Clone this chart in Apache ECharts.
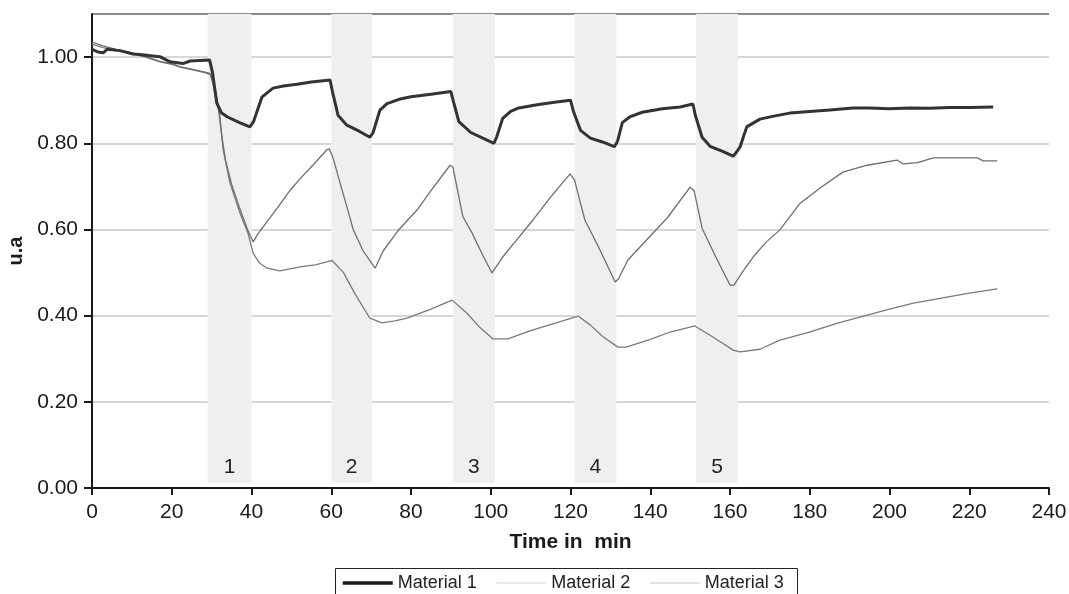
<!DOCTYPE html>
<html>
<head>
<meta charset="utf-8">
<script src="https://cdn.jsdelivr.net/npm/echarts@6/dist/echarts.min.js"></script>
<style>
html,body{margin:0;padding:0;background:#fff;}
#chart{width:1069px;height:594px;}
</style>
</head>
<body>
<div id="chart"></div>
<script>
// ---- data ----
var seriesNames = ['Material 1', 'Material 2', 'Material 3'];

var t1 = [0,1.5,2.8,3.8,7,10.3,14,17,19.6,22.8,24.6,27,29.5,30.2,31.3,32.5,34,37,39.6,40.5,42.6,45.4,48,51.4,55,59.7,60.3,61.7,63.9,67,69.7,70.5,72.2,74,77,80,85,90,90.7,92,95,98,100.8,101.5,103,105,107,112,116,120,120.7,122.5,125,128,131,131.8,133,135,138,143,147.5,150.7,151.3,153,155,158,160.8,161.5,162.5,164.2,167.5,171,175,180,185,190.9,195,200,205,210,215,220,226];
var v1 = [1.018,1.012,1.010,1.018,1.015,1.007,1.004,1.001,0.989,0.985,0.991,0.992,0.993,0.965,0.893,0.870,0.861,0.848,0.838,0.850,0.907,0.928,0.933,0.937,0.942,0.947,0.920,0.865,0.842,0.828,0.814,0.825,0.877,0.892,0.902,0.908,0.914,0.920,0.895,0.850,0.825,0.812,0.800,0.815,0.858,0.874,0.882,0.890,0.895,0.900,0.875,0.830,0.812,0.803,0.792,0.805,0.848,0.862,0.872,0.880,0.884,0.891,0.865,0.814,0.793,0.782,0.770,0.778,0.791,0.838,0.856,0.863,0.870,0.874,0.877,0.882,0.882,0.880,0.882,0.881,0.883,0.883,0.884];

var t2 = [0,2.8,6,10.3,14,17,20,22,25,27.8,29.6,30.5,31.5,32.5,33.5,35,37,39,40.4,41.5,43.9,46.5,49.7,52.2,55.4,58.9,59.5,60.5,62.2,64,65.5,68,71,73,77,81.5,85,89.8,90.5,93,95.3,98,100.3,103,106,110.6,115,119.9,121,123.6,127,131.2,132,134.4,139,144.2,150,151,153,156.5,160,161,163,165.8,169,172.5,177.6,182.6,188.3,194.4,201.9,203.4,207,211,216,222,223.5,227];
var v2 = [1.035,1.026,1.018,1.009,1.000,0.990,0.985,0.978,0.972,0.966,0.962,0.945,0.895,0.820,0.760,0.705,0.650,0.600,0.571,0.588,0.618,0.650,0.691,0.718,0.749,0.785,0.787,0.765,0.708,0.650,0.600,0.550,0.510,0.550,0.600,0.645,0.690,0.749,0.745,0.630,0.592,0.540,0.499,0.536,0.570,0.622,0.675,0.729,0.715,0.622,0.560,0.478,0.485,0.529,0.575,0.626,0.698,0.690,0.603,0.535,0.471,0.471,0.500,0.536,0.570,0.599,0.661,0.696,0.733,0.749,0.761,0.752,0.755,0.766,0.766,0.766,0.759,0.759];

var t3 = [0,2.8,6,10.3,14,17,20,22,25,27.8,29.6,30.3,31.3,32.1,32.9,34.6,37.1,39.1,40.4,42,43.9,47.1,52.2,56,60.2,63,66,69.7,72.7,76,79,85,90.3,94,97,100.6,104.3,110,116,121.9,125,128,131.9,134,140,145,151.2,155.8,160.8,162.5,167.5,172.5,179.3,186.8,194.4,200,206,214.4,220,227];
var v3 = [1.030,1.022,1.016,1.008,0.998,0.989,0.983,0.977,0.971,0.965,0.960,0.940,0.900,0.861,0.784,0.708,0.638,0.592,0.545,0.522,0.510,0.504,0.513,0.518,0.528,0.501,0.450,0.394,0.383,0.388,0.394,0.415,0.436,0.406,0.375,0.346,0.346,0.365,0.382,0.399,0.378,0.352,0.327,0.327,0.345,0.362,0.376,0.350,0.320,0.316,0.322,0.343,0.360,0.382,0.401,0.415,0.429,0.443,0.452,0.462];

var bandStarts = [29, 60, 90.5, 121, 151.5];
var bandEnds   = [40, 70.2, 101, 131.5, 162];
var bandLabels = ['1', '2', '3', '4', '5'];

var xTicks = {min: 0, max: 240, interval: 20};
var yTicks = {min: 0, max: 1.1, interval: 0.2};

// ---- build ----
function pairs(t, v){ return t.map(function(x,i){ return [x, v[i]]; }); }
var bands = bandStarts.map(function(s,i){
  return [{name: bandLabels[i], xAxis: s, yAxis: 0.012}, {xAxis: bandEnds[i], yAxis: yTicks.max}];
});

var FONT = 'Liberation Sans, Arial, sans-serif';
var chart = echarts.init(document.getElementById('chart'), null, {renderer:'canvas'});
chart.setOption({
  animation: false,
  backgroundColor: '#fff',
  textStyle: {fontFamily: FONT},
  grid: {left: 92, right: 20, top: 14, bottom: 106, containLabel: false, outerBoundsMode: 'none'},
  graphic: [{
    type: 'rect', left: 333, top: 566, z: 100, silent: true,
    shape: {width: 462, height: 40},
    style: {fill: 'none', stroke: '#222', lineWidth: 1}
  }],
  legend: {
    left: 341, top: 574, padding: 0,
    itemWidth: 50, itemHeight: 14, itemGap: 19,
    textStyle: {fontFamily: FONT, fontSize: 18, color: '#222'},
    data: [
      {name: seriesNames[0], lineStyle: {color: '#1a1a1a', width: 3.5}, itemStyle: {color: 'rgba(0,0,0,0)', borderWidth: 0}},
      {name: seriesNames[1], lineStyle: {color: '#d0d0d0', width: 1}, itemStyle: {color: 'rgba(0,0,0,0)', borderWidth: 0}},
      {name: seriesNames[2], lineStyle: {color: '#c4c4c4', width: 1}, itemStyle: {color: 'rgba(0,0,0,0)', borderWidth: 0}}
    ]
  },
  xAxis: {
    type: 'value', min: xTicks.min, max: xTicks.max, interval: xTicks.interval,
    name: 'Time in  min', nameLocation: 'middle', nameGap: 44,
    nameTextStyle: {fontFamily: FONT, fontSize: 21, fontWeight: 'bold', color: '#1a1a1a'},
    axisLine: {lineStyle: {color: '#1a1a1a', width: 2}},
    axisTick: {show: true, length: 7, lineStyle: {color: '#1a1a1a', width: 2}},
    axisLabel: {fontFamily: FONT, fontSize: 21, color: '#1a1a1a', margin: 14},
    splitLine: {show: false}
  },
  yAxis: {
    type: 'value', min: yTicks.min, max: yTicks.max, interval: yTicks.interval,
    name: 'u.a', nameLocation: 'middle', nameGap: 63,
    nameTextStyle: {fontFamily: FONT, fontSize: 20, fontWeight: 'bold', color: '#1a1a1a'},
    axisLine: {show: true, lineStyle: {color: '#1a1a1a', width: 2}},
    axisTick: {show: true, length: 8, lineStyle: {color: '#1a1a1a', width: 2}},
    axisLabel: {fontFamily: FONT, fontSize: 21, color: '#1a1a1a', margin: 14, showMaxLabel: false,
      formatter: function(v){ return v.toFixed(2); }},
    splitLine: {show: true, lineStyle: {color: ['#d6d6d6','#d6d6d6','#d6d6d6','#d6d6d6','#d6d6d6','#d6d6d6','#8c8c8c'], width: 2}}
  },
  series: [
    {
      name: 'bands', type: 'line', data: [], z: -1, silent: true,
      markArea: {
        silent: true,
        itemStyle: {color: '#eeeff1'},
        label: {show: true, position: 'insideBottom', distance: 5, fontFamily: FONT, fontSize: 21, color: '#222'},
        data: bands
      }
    },
    {
      name: seriesNames[2], type: 'line', data: pairs(t3, v3), showSymbol: false, symbol: 'none',
      lineStyle: {color: '#7a7a7a', width: 1.3}, itemStyle: {color: '#c4c4c4'}, z: 3
    },
    {
      name: seriesNames[1], type: 'line', data: pairs(t2, v2), showSymbol: false, symbol: 'none',
      lineStyle: {color: '#6e6e6e', width: 1.3}, itemStyle: {color: '#d0d0d0'}, z: 4
    },
    {
      name: seriesNames[0], type: 'line', data: pairs(t1, v1), showSymbol: false, symbol: 'none',
      lineStyle: {color: '#333333', width: 3}, itemStyle: {color: '#1a1a1a'}, z: 5
    }
  ]
});
</script>
</body>
</html>
